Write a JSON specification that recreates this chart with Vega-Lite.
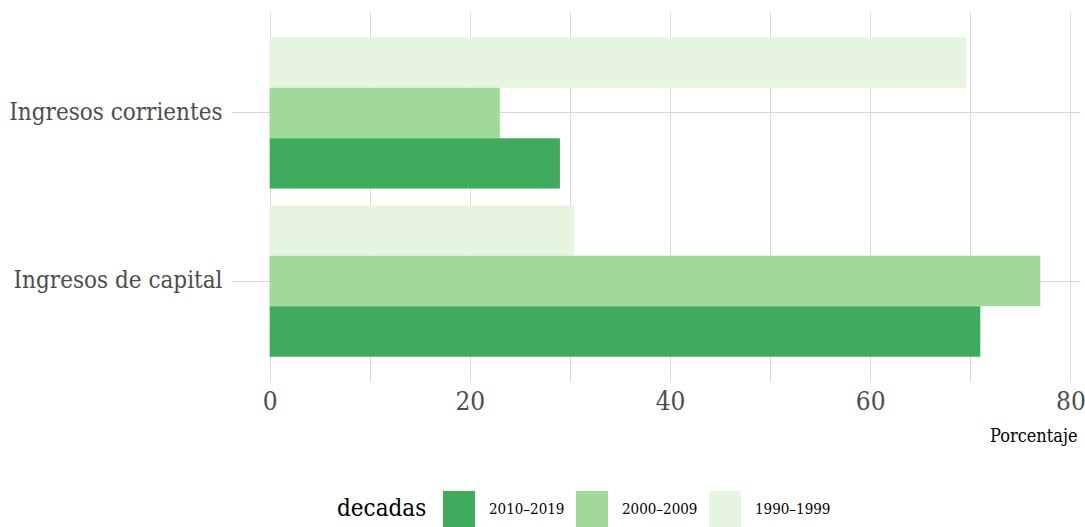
{
  "$schema": "https://vega.github.io/schema/vega-lite/v6.json",
  "width": 849,
  "height": 370,
  "autosize": {"type": "none"},
  "padding": {"left": 231, "top": 12, "right": 5, "bottom": 145},
  "background": "white",
  "config": {
    "view": {"stroke": null},
    "font": "DejaVu Serif Condensed"
  },
  "data": {
    "values": [
      {"categoria": "Ingresos corrientes", "decadas": "1990–1999", "porcentaje": 69.6},
      {"categoria": "Ingresos corrientes", "decadas": "2000–2009", "porcentaje": 23.0},
      {"categoria": "Ingresos corrientes", "decadas": "2010–2019", "porcentaje": 29.0},
      {"categoria": "Ingresos de capital", "decadas": "1990–1999", "porcentaje": 30.4},
      {"categoria": "Ingresos de capital", "decadas": "2000–2009", "porcentaje": 77.0},
      {"categoria": "Ingresos de capital", "decadas": "2010–2019", "porcentaje": 71.0}
    ]
  },
  "mark": {"type": "bar"},
  "encoding": {
    "y": {
      "field": "categoria",
      "type": "nominal",
      "sort": ["Ingresos corrientes", "Ingresos de capital"],
      "scale": {"paddingInner": 0.1, "paddingOuter": 0.15},
      "axis": {
        "title": null,
        "grid": true,
        "gridColor": "#d9d9d9",
        "bandPosition": 0.5,
        "ticks": false,
        "domain": false,
        "labelPadding": 9,
        "labelFontSize": 24,
        "labelBaseline": "middle",
        "labelDy": 4,
        "labelColor": "#4d4d4d",
        "labelLimit": 400
      }
    },
    "yOffset": {
      "field": "decadas",
      "sort": ["1990–1999", "2000–2009", "2010–2019"],
      "scale": {"paddingInner": 0, "paddingOuter": 0}
    },
    "x": {
      "field": "porcentaje",
      "type": "quantitative",
      "scale": {"domain": [-3.86, 80.96], "nice": false, "zero": false},
      "axis": {
        "values": [0, 10, 20, 30, 40, 50, 60, 70, 80],
        "labelExpr": "datum.value % 20 === 0 ? datum.label : ''",
        "title": "Porcentaje",
        "titleAnchor": "end",
        "titleAlign": "right",
        "titleX": 846,
        "titleFontSize": 18,
        "titleFontWeight": "normal",
        "titleColor": "#000000",
        "titlePadding": 13,
        "grid": true,
        "gridColor": "#d9d9d9",
        "ticks": false,
        "domain": false,
        "labelPadding": 6,
        "labelFontSize": 26,
        "labelColor": "#4d4d4d"
      }
    },
    "x2": {"datum": 0},
    "color": {
      "field": "decadas",
      "type": "nominal",
      "scale": {
        "domain": ["2010–2019", "2000–2009", "1990–1999"],
        "range": ["#41ab5d", "#a1d99b", "#e5f5e0"]
      },
      "legend": {
        "orient": "none",
        "legendX": 106,
        "legendY": 479,
        "direction": "horizontal",
        "title": "decadas",
        "titleOrient": "left",
        "titleFontSize": 24,
        "titleFontWeight": "normal",
        "titleColor": "#000000",
        "titlePadding": 14,
        "symbolType": "M-0.889,-1H0.889V1H-0.889Z",
        "symbolSize": 1296,
        "symbolStrokeWidth": 0,
        "symbolOpacity": 1,
        "labelFontSize": 15,
        "labelColor": "#000000",
        "labelOffset": 12,
        "columnPadding": 9
      }
    }
  }
}
